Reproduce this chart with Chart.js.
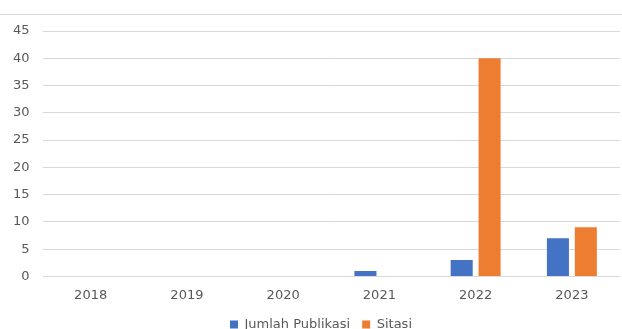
<!DOCTYPE html>
<html>
<head>
<meta charset="utf-8">
<script src="https://cdn.jsdelivr.net/npm/chart.js@4"></script>
<style>
  html, body { margin: 0; padding: 0; background: #fff; }
  #wrap { width: 622px; height: 329px; position: relative; }
</style>
</head>
<body>
<div id="wrap"><canvas id="pubChart" width="622" height="329"></canvas></div>
<script>
// data
const years = ['2018', '2019', '2020', '2021', '2022', '2023'];
const jumlahPublikasi = [0, 0, 0, 1, 3, 7];
const sitasi = [0, 0, 0, 0, 40, 9];
const yTicks = [0, 5, 10, 15, 20, 25, 30, 35, 40, 45];

const textFont = { family: 'DejaVu Sans', size: 13 };

// thin frame line across the top, and nudge the legend a bit right
const frameTweaks = {
    id: 'frameTweaks',
    afterLayout(chart) {
        chart.legend.left += 22;
    },
    beforeDraw(chart) {
        const c = chart.ctx;
        c.save();
        c.strokeStyle = '#d9d9d9';
        c.lineWidth = 1;
        c.beginPath();
        c.moveTo(0, 14.5);
        c.lineTo(chart.width, 14.5);
        c.stroke();
        c.restore();
    }
};

const ctx = document.getElementById('pubChart').getContext('2d');
new Chart(ctx, {
    type: 'bar',
    data: {
        labels: years,
        datasets: [{
            label: 'Jumlah Publikasi',
            data: jumlahPublikasi,
            backgroundColor: '#4472C4'
        }, {
            label: 'Sitasi',
            data: sitasi,
            backgroundColor: '#ED7D31'
        }]
    },
    options: {
        responsive: false,
        animation: false,
        layout: { padding: { top: 31, left: 0, right: 2, bottom: -12 } },
        datasets: {
            bar: { categoryPercentage: 0.58, barPercentage: 0.79 }
        },
        plugins: {
            legend: {
                position: 'bottom',
                labels: {
                    boxWidth: 8,
                    boxHeight: 8,
                    color: '#595959',
                    font: textFont,
                    padding: 12
                }
            },
            tooltip: { enabled: false }
        },
        scales: {
            x: {
                grid: { display: false },
                border: { display: false },
                ticks: {
                    color: '#595959',
                    font: textFont,
                    padding: 3
                }
            },
            y: {
                min: 0,
                max: 45,
                afterBuildTicks(axis) {
                    axis.ticks = yTicks.map(v => ({ value: v }));
                },
                grid: { color: '#d9d9d9', drawTicks: false },
                border: { display: false },
                ticks: {
                    color: '#595959',
                    font: textFont,
                    padding: 13
                }
            }
        }
    },
    plugins: [frameTweaks]
});
</script>
</body>
</html>
